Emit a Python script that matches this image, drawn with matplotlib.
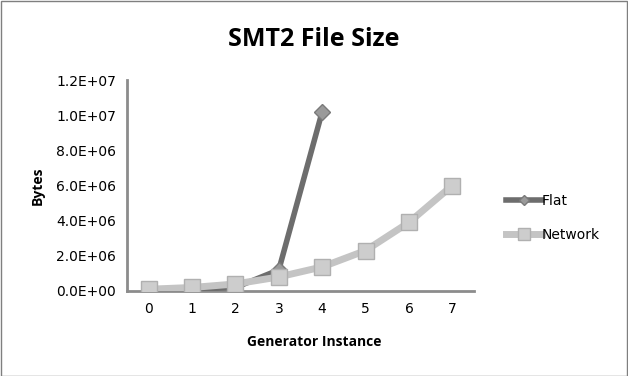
import matplotlib
matplotlib.use("Agg")
import matplotlib.pyplot as plt
from matplotlib.patches import Rectangle

instances = [0, 1, 2, 3, 4, 5, 6, 7]
flat_x = [0, 1, 2, 3, 4]
flat_bytes = [50000, 100000, 200000, 1200000, 10200000]
network_bytes = [100000, 200000, 400000, 800000, 1370000, 2300000, 3900000, 6000000]
y_ticks = [0, 2e6, 4e6, 6e6, 8e6, 1e7, 1.2e7]
y_tick_labels = ["0.0E+00", "2.0E+06", "4.0E+06", "6.0E+06", "8.0E+06", "1.0E+07", "1.2E+07"]

W, H = 628, 376
fig = plt.figure(figsize=(W / 100, H / 100), dpi=100)
fig.patch.set_facecolor("white")
fig.add_artist(Rectangle((0.5 / W, 0.5 / H), 1 - 1.5 / W, 1 - 1.5 / H, transform=fig.transFigure,
                         fill=False, edgecolor="#7f7f7f", linewidth=1.0))

ax = fig.add_axes([127 / W, 1 - 291 / H, (474 - 127) / W, (291 - 80) / H])
ax.plot(flat_x, flat_bytes, color="#6d6d6d", linewidth=4, marker="D", markersize=8,
        markerfacecolor="#9a9a9a", markeredgecolor="#7a7a7a", label="Flat", zorder=3)
ax.plot(instances, network_bytes, color="#c4c4c4", linewidth=5, marker="s", markersize=12,
        markerfacecolor="#cdcdcd", markeredgecolor="#b0b0b0", label="Network", zorder=4)

ax.set_xlim(-0.5, 7.5)
ax.set_ylim(0, 1.2e7)
ax.set_xticks(instances)
ax.set_xticklabels([str(i) for i in instances])
ax.set_yticks(y_ticks)
ax.set_yticklabels(y_tick_labels)
ax.tick_params(axis="both", length=0, labelsize=10, colors="black", pad=8)
for s in ["top", "right"]:
    ax.spines[s].set_visible(False)
for s in ["left", "bottom"]:
    ax.spines[s].set_color("#8c8c8c")
    ax.spines[s].set_linewidth(2)
ax.set_facecolor("white")

fig.text(314 / W, 1 - 40 / H, "SMT2 File Size", ha="center", va="center",
         fontsize=18, fontweight="bold", family="Open Sans")
fig.text(314 / W, 1 - 342 / H, "Generator Instance", ha="center", va="center",
         fontsize=10, fontweight="bold", family="Open Sans")
fig.text(38 / W, 1 - 186 / H, "Bytes", ha="center", va="center", rotation=90,
         fontsize=10, fontweight="bold", family="Open Sans")

leg = fig.legend(loc="center left", bbox_to_anchor=(493 / W, 1 - 218 / H), frameon=False,
                 fontsize=10, handlelength=2.6, handletextpad=0.0, labelspacing=1.4,
                 markerscale=0.7)

fig.savefig("out.png", dpi=100)
